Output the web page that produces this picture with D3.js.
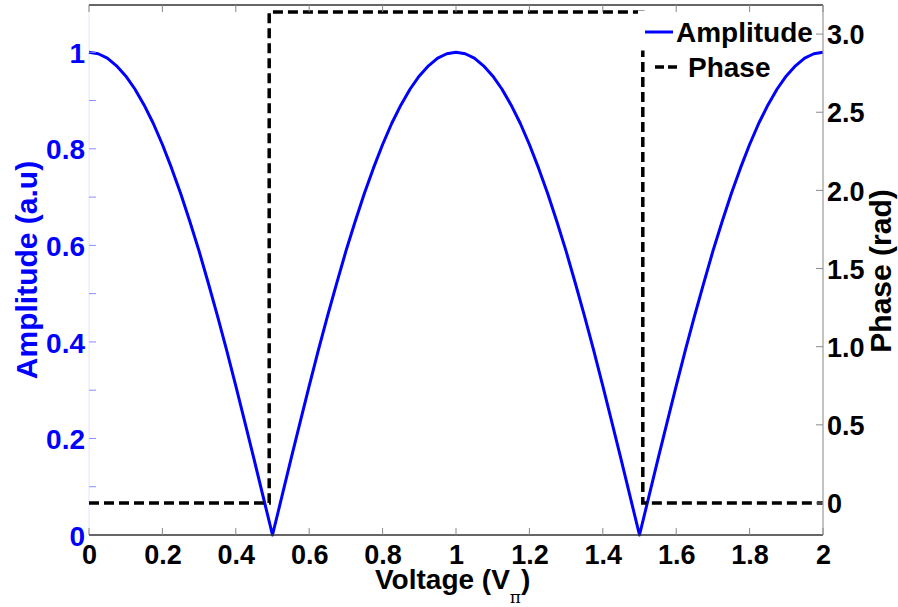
<!DOCTYPE html>
<html>
<head>
<meta charset="utf-8">
<script src="https://cdn.jsdelivr.net/npm/d3@7"></script>
<style>
html,body{margin:0;padding:0;background:#fff;}
svg{display:block;}
text{font-family:"Liberation Sans",Arial,Helvetica,sans-serif;font-weight:bold;}
</style>
</head>
<body>
<svg id="chart" width="898" height="607"></svg>
<script>
// ---- data ----
const voltageStep = 0.025;
const amplitude = [
  1.000,0.997,0.988,0.972,0.951,0.924,0.891,0.853,0.809,0.760,
  0.707,0.649,0.588,0.522,0.454,0.383,0.309,0.233,0.156,0.078,
  0.000,0.078,0.156,0.233,0.309,0.383,0.454,0.522,0.588,0.649,
  0.707,0.760,0.809,0.853,0.891,0.924,0.951,0.972,0.988,0.997,
  1.000,0.997,0.988,0.972,0.951,0.924,0.891,0.853,0.809,0.760,
  0.707,0.649,0.588,0.522,0.454,0.383,0.309,0.233,0.156,0.078,
  0.000,0.078,0.156,0.233,0.309,0.383,0.454,0.522,0.588,0.649,
  0.707,0.760,0.809,0.853,0.891,0.924,0.951,0.972,0.988,0.997,
  1.000
];
const voltage = amplitude.map((_, i) => i * voltageStep);
const phaseVoltage = [0, 0.491, 0.491, 1.509, 1.509, 2];
const phaseValues  = [0, 0, 3.1416, 3.1416, 0, 0];
const xTicks = [0,0.2,0.4,0.6,0.8,1,1.2,1.4,1.6,1.8,2];
const xTickLabels = ["0","0.2","0.4","0.6","0.8","1","1.2","1.4","1.6","1.8","2"];
const leftTicks = [0.1,0.2,0.3,0.4,0.5,0.6,0.7,0.8,0.9,1.0];
const leftLabelTicks = [0,0.2,0.4,0.6,0.8,1];
const leftTickLabels = ["0","0.2","0.4","0.6","0.8","1"];
const rightTicks = [0,0.5,1,1.5,2,2.5,3];
const rightTickLabels = ["0","0.5","1.0","1.5","2.0","2.5","3.0"];

// ---- layout ----
const L = 89, R = 823, T = 5, B = 535;
const svg = d3.select("#chart");
const x = d3.scaleLinear().domain([0, 2]).range([L, R]);
const yL = d3.scaleLinear().domain([0, 1.098]).range([B, T]);
const yR = d3.scaleLinear().domain([-0.2047, 3.186]).range([B, T]);

// left axis faint line
svg.append("line").attr("x1",L).attr("x2",L).attr("y1",T).attr("y2",B)
  .attr("stroke","#e4e4f4").attr("stroke-width",1);

// amplitude curve
const ampLine = d3.line().x((d,i)=>x(voltage[i])).y(d=>yL(d)).curve(d3.curveLinear);
svg.append("path").datum(amplitude).attr("d", ampLine)
  .attr("fill","none").attr("stroke","#0000ff").attr("stroke-width",3)
  .attr("stroke-linejoin","round");

// phase
const phLine = d3.line().x((d,i)=>x(phaseVoltage[i])).y(d=>yR(d));
svg.append("path").datum(phaseValues).attr("d", phLine)
  .attr("fill","none").attr("stroke","#000").attr("stroke-width",3.5)
  .attr("stroke-dasharray","10,5");

// legend background (no border)
svg.append("rect").attr("x",638).attr("y",10.5).attr("width",R-638-1).attr("height",40)
  .attr("fill","#fff");

// axes lines
svg.append("line").attr("x1",L).attr("x2",R).attr("y1",B).attr("y2",B).attr("stroke","#333").attr("stroke-width",1.5);
svg.append("line").attr("x1",L).attr("x2",R).attr("y1",T).attr("y2",T).attr("stroke","#333").attr("stroke-width",1.5);
svg.append("line").attr("x1",R).attr("x2",R).attr("y1",T).attr("y2",B).attr("stroke","#999").attr("stroke-width",1.2);

// x ticks (bottom and top, inward)
const xAxisB = d3.axisBottom(x).tickValues(xTicks).tickSize(0).tickFormat((d,i)=>xTickLabels[i]);
const gx = svg.append("g").attr("transform",`translate(0,${B})`).call(xAxisB);
gx.select(".domain").remove();
gx.selectAll("text").attr("font-size",27).attr("fill","#000").attr("dy","0").attr("y",29);
xTicks.forEach(v=>{
  svg.append("line").attr("x1",x(v)).attr("x2",x(v)).attr("y1",B).attr("y2",B-7).attr("stroke","#888").attr("stroke-width",1);
  svg.append("line").attr("x1",x(v)).attr("x2",x(v)).attr("y1",T).attr("y2",T+7).attr("stroke","#888").attr("stroke-width",1);
});

// left ticks
leftTicks.forEach(v=>{
  svg.append("line").attr("x1",L).attr("x2",L+7).attr("y1",yL(v)).attr("y2",yL(v)).attr("stroke","#8c8cff").attr("stroke-width",1);
});
const yAxisL = d3.axisLeft(yL).tickValues(leftLabelTicks).tickSize(0).tickFormat((d,i)=>leftTickLabels[i]);
const gl = svg.append("g").attr("transform",`translate(${L},0)`).call(yAxisL);
gl.select(".domain").remove();
gl.selectAll("text").attr("font-size",28).attr("fill","#0000ff").attr("x",-4).attr("dy","0.36em");

// right ticks
rightTicks.forEach(v=>{
  svg.append("line").attr("x1",R).attr("x2",R-7).attr("y1",yR(v)).attr("y2",yR(v)).attr("stroke","#888").attr("stroke-width",1);
});
const yAxisR = d3.axisRight(yR).tickValues(rightTicks).tickSize(0).tickFormat((d,i)=>rightTickLabels[i]);
const gr = svg.append("g").attr("transform",`translate(${R},0)`).call(yAxisR);
gr.select(".domain").remove();
gr.selectAll("text").attr("font-size",27).attr("fill","#000").attr("x",4).attr("dy","0.36em");

// axis titles
svg.append("text").attr("transform","translate(37,270) rotate(-90)")
  .attr("text-anchor","middle").attr("font-size",30).attr("fill","#0000ff").text("Amplitude (a.u)");
svg.append("text").attr("transform","translate(891,271) rotate(-90)")
  .attr("text-anchor","middle").attr("font-size",30).attr("fill","#000").text("Phase (rad)");
const xl = svg.append("text").attr("x",375).attr("y",589).attr("font-size",28).attr("fill","#000");
xl.append("tspan").text("Voltage (V");
xl.append("tspan").attr("font-size",17).attr("font-weight","normal").attr("font-family","DejaVu Serif, serif").attr("dy",14).text("π");
xl.append("tspan").attr("dy",-14).text(")");

// legend
svg.append("line").attr("x1",645).attr("x2",673).attr("y1",32).attr("y2",32).attr("stroke","#0000ff").attr("stroke-width",3);
svg.append("text").attr("x",676).attr("y",42).attr("font-size",28).attr("fill","#000").text("Amplitude");
svg.append("line").attr("x1",655).attr("x2",681).attr("y1",67).attr("y2",67).attr("stroke","#000").attr("stroke-width",3.5).attr("stroke-dasharray","9,4");
svg.append("text").attr("x",688).attr("y",77).attr("font-size",28).attr("fill","#000").text("Phase");
</script>
</body>
</html>
